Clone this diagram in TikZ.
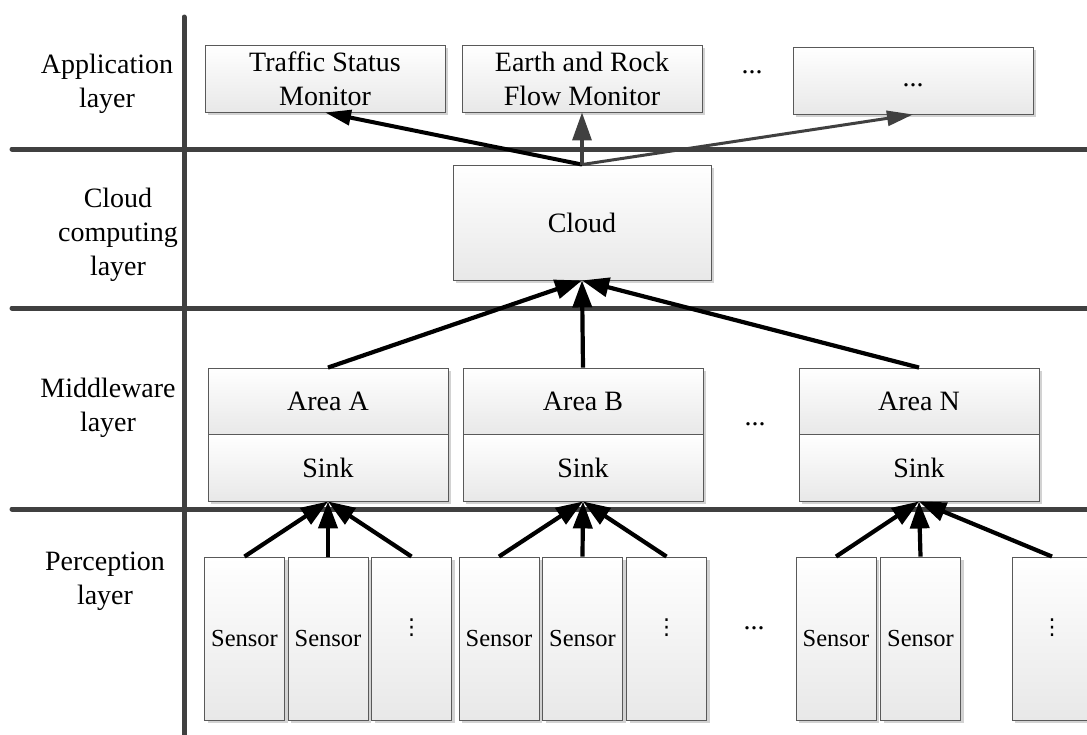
\documentclass[tikz,border=0pt]{standalone}
\usepackage{fontspec}
\setmainfont{Liberation Serif}
\newfontfamily\symfont{DejaVu Sans}
\usetikzlibrary{arrows.meta,shadows}

% vertical ellipsis placed above the sensor baseline
\newcommand{\sensordots}{\vphantom{Sensor}\smash{\raisebox{12pt}{\symfont\fontsize{22}{24}\selectfont ⋮}}}

\begin{document}
\begin{tikzpicture}[x=1pt,y=-1pt,
  layerline/.style={line width=5pt, draw=black!75, line cap=round},
  box/.style={draw=black!65, line width=0.9pt, rectangle, inner sep=0pt,
    top color=white, bottom color=black!9,
    drop shadow={shadow xshift=3pt, shadow yshift=-3pt, fill=black!25, opacity=0.7},
    font=\fontsize{28}{34}\selectfont, align=center},
  appbox/.style={box, minimum width=240pt, minimum height=67pt},
  areabox/.style={box, minimum width=240pt, minimum height=66.5pt},
  sensorbox/.style={box, minimum width=80pt, minimum height=163pt,
    font=\fontsize{24.5}{30}\selectfont},
  lbl/.style={font=\fontsize{28}{34}\selectfont, align=center, inner sep=0pt},
  uparrow/.style={-{Triangle[length=27pt,width=19pt]}, line width=4.2pt, draw=black},
  fanarrow/.style={-{Triangle[length=26pt,width=15pt]}, line width=3.4pt},
]
\useasboundingbox (0,0) rectangle (1087,734);
\fill[white] (0,0) rectangle (1087,734);

% layer separators and axis
\coordinate (axtop) at (184,17);
\coordinate (axbot) at (184,740);
\coordinate (s1w) at (12,149);  \coordinate (s1e) at (1095,149);
\coordinate (s2w) at (12,308);  \coordinate (s2e) at (1095,308);
\coordinate (s3w) at (12,509);  \coordinate (s3e) at (1095,509);
\draw[layerline] (s1w) -- (s1e);
\draw[layerline] (s2w) -- (s2e);
\draw[layerline] (s3w) -- (s3e);
\draw[layerline] (axbot) -- (axtop);

% layer names
\node[lbl] (lapp)   at (107,84)    {Application\\layer};
\node[lbl] (lcloud) at (118,234.4) {Cloud\\computing\\layer};
\node[lbl] (lmid)   at (108,408)   {Middleware\\layer};
\node[lbl] (lper)   at (105,581)   {Perception\\layer};

% application layer
\node[appbox] (traffic) at (325,78.5) {Traffic Status\\Monitor};
\node[appbox] (earth)   at (582,78.5) {Earth and Rock\\Flow Monitor};
\node[lbl, anchor=base] (appdots) at (752,73) {...};
\node[appbox] (appmore) at (913,80.5) {\vphantom{Ag}...};

% cloud layer
\node[box, minimum width=258pt, minimum height=115pt] (cloud) at (582,222.5) {Cloud};

% middleware layer
\node[areabox] (areaA) at (328,401.25) {Area A};
\node[areabox] (sinkA) at (328,467.75) {Sink};
\node[areabox] (areaB) at (583,401.25) {Area B};
\node[areabox] (sinkB) at (583,467.75) {Sink};
\node[lbl, anchor=base] (middots) at (755,425) {...};
\node[areabox] (areaN) at (919,401.25) {Area N};
\node[areabox] (sinkN) at (919,467.75) {Sink};

% perception layer
\node[sensorbox] (sA1) at (244.5,638.5) {Sensor};
\node[sensorbox] (sA2) at (328,638.5)   {Sensor};
\node[sensorbox] (sA3) at (411.5,638.5) {\sensordots};
\node[sensorbox] (sB1) at (499,638.5)   {Sensor};
\node[sensorbox] (sB2) at (582.5,638.5) {Sensor};
\node[sensorbox] (sB3) at (666.5,638.5) {\sensordots};
\node[lbl, anchor=base] (perdots) at (754,629) {...};
\node[sensorbox] (sN1) at (836,638.5)   {Sensor};
\node[sensorbox] (sN2) at (920.5,638.5) {Sensor};
\node[sensorbox] (sN3) at (1052,638.5)  {\sensordots};

% cloud to applications
\draw[fanarrow, draw=black, line width=4pt] (cloud.north) -- (traffic.south);
\draw[fanarrow, draw=black!75, -{Triangle[length=28pt,width=19pt]}] (cloud.north) -- (earth.south);
\draw[fanarrow, draw=black!75, line width=3pt] (cloud.north) -- (appmore.south);

% areas to cloud
\draw[uparrow] (areaA.north) -- (cloud.south);
\draw[uparrow] (areaB.north) -- (cloud.south);
\draw[uparrow] (areaN.north) -- (cloud.south);

% sensors to sinks
\foreach \g in {A,B,N}{
  \draw[uparrow] (s\g1.north) -- (sink\g.south);
  \draw[uparrow] (s\g2.north) -- (sink\g.south);
  \draw[uparrow] (s\g3.north) -- (sink\g.south);
}
\end{tikzpicture}
\end{document}
